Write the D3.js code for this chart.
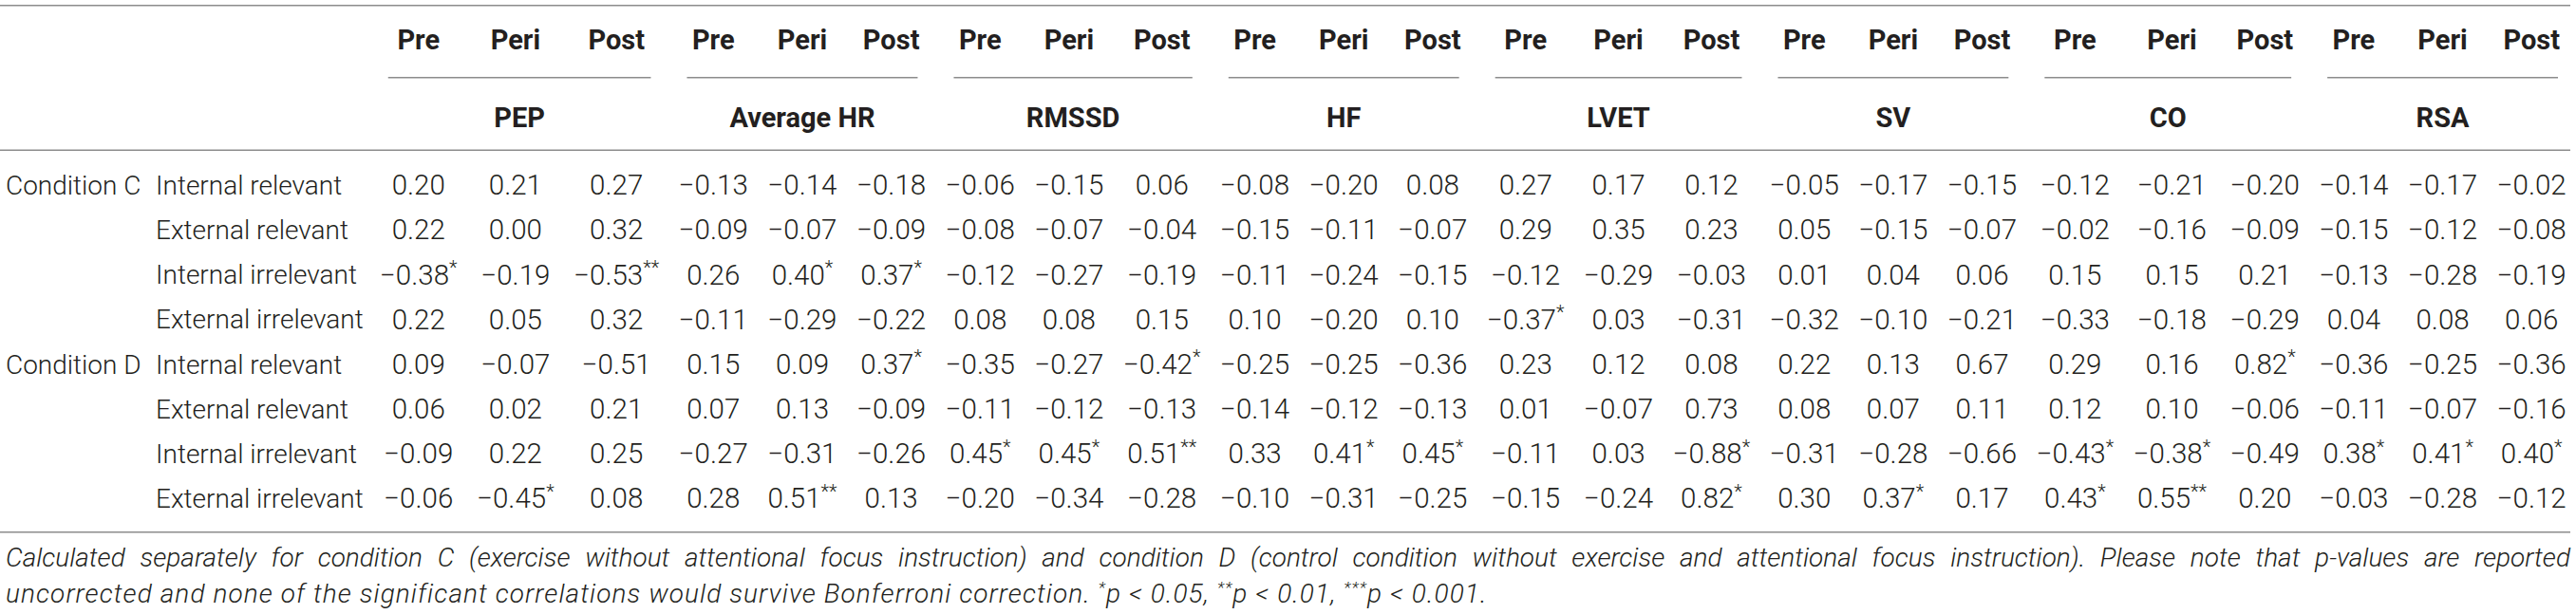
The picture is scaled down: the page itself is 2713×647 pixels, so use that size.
<!DOCTYPE html>
<html>
<head>
<meta charset="utf-8">
<script src="https://cdn.jsdelivr.net/npm/d3@7"></script>
<style>
  html, body { margin: 0; padding: 0; background: #fff; }
  svg { display: block; }
</style>
</head>
<body>
<div id="chart"></div>
<script>
// correlation table: focus ratings vs. physiology, pre / peri / post

const conditions = ["Condition C", "Condition D"]
const focusTypes = ["Internal relevant", "External relevant", "Internal irrelevant", "External irrelevant"]
const measures = ["PEP", "Average HR", "RMSSD", "HF", "LVET", "SV", "CO", "RSA"]
const phases = ["Pre", "Peri", "Post"]

// one row per focus type, 24 values = 8 measures x 3 phases
const condC = [
  [0.20, 0.21, 0.27, -0.13, -0.14, -0.18, -0.06, -0.15, 0.06, -0.08, -0.20, 0.08, 0.27, 0.17, 0.12, -0.05, -0.17, -0.15, -0.12, -0.21, -0.20, -0.14, -0.17, -0.02],
  [0.22, 0.00, 0.32, -0.09, -0.07, -0.09, -0.08, -0.07, -0.04, -0.15, -0.11, -0.07, 0.29, 0.35, 0.23, 0.05, -0.15, -0.07, -0.02, -0.16, -0.09, -0.15, -0.12, -0.08],
  [-0.38, -0.19, -0.53, 0.26, 0.40, 0.37, -0.12, -0.27, -0.19, -0.11, -0.24, -0.15, -0.12, -0.29, -0.03, 0.01, 0.04, 0.06, 0.15, 0.15, 0.21, -0.13, -0.28, -0.19],
  [0.22, 0.05, 0.32, -0.11, -0.29, -0.22, 0.08, 0.08, 0.15, 0.10, -0.20, 0.10, -0.37, 0.03, -0.31, -0.32, -0.10, -0.21, -0.33, -0.18, -0.29, 0.04, 0.08, 0.06]
]
const condD = [
  [0.09, -0.07, -0.51, 0.15, 0.09, 0.37, -0.35, -0.27, -0.42, -0.25, -0.25, -0.36, 0.23, 0.12, 0.08, 0.22, 0.13, 0.67, 0.29, 0.16, 0.82, -0.36, -0.25, -0.36],
  [0.06, 0.02, 0.21, 0.07, 0.13, -0.09, -0.11, -0.12, -0.13, -0.14, -0.12, -0.13, 0.01, -0.07, 0.73, 0.08, 0.07, 0.11, 0.12, 0.10, -0.06, -0.11, -0.07, -0.16],
  [-0.09, 0.22, 0.25, -0.27, -0.31, -0.26, 0.45, 0.45, 0.51, 0.33, 0.41, 0.45, -0.11, 0.03, -0.88, -0.31, -0.28, -0.66, -0.43, -0.38, -0.49, 0.38, 0.41, 0.40],
  [-0.06, -0.45, 0.08, 0.28, 0.51, 0.13, -0.20, -0.34, -0.28, -0.10, -0.31, -0.25, -0.15, -0.24, 0.82, 0.30, 0.37, 0.17, 0.43, 0.55, 0.20, -0.03, -0.28, -0.12]
]
// significance marks: [row, column, number of stars]
const starsC = [[2, 0, 1], [2, 2, 2], [2, 4, 1], [2, 5, 1], [3, 12, 1]]
const starsD = [
  [0, 5, 1], [0, 8, 1], [0, 20, 1],
  [2, 6, 1], [2, 7, 1], [2, 8, 2], [2, 10, 1], [2, 11, 1], [2, 14, 1], [2, 18, 1], [2, 19, 1], [2, 21, 1], [2, 22, 1], [2, 23, 1],
  [3, 1, 1], [3, 4, 2], [3, 14, 1], [3, 16, 1], [3, 18, 1], [3, 19, 2]
]

const noteLine1 = "Calculated separately for condition C (exercise without attentional focus instruction) and condition D (control condition without exercise and attentional focus instruction). Please note that p-values are reported"
const noteLine2 = ["uncorrected and none of the significant correlations would survive Bonferroni correction. ", "*", "p < 0.05, ", "**", "p < 0.01, ", "***", "p < 0.001."]

const W = 2713, H = 647
const FONT = "Roboto, 'Helvetica Neue', Arial, sans-serif"
const FS = 28, FSBOLD = 29, FSNUM = 29.5, FSSTAR = 20
const PAD = 8, PADNUM = 10.5
const NOTE2_END = 1566
const ink = "#231f20", ruleCol = "#8c8c8c"
const fmt = d3.format(".2f")

const svg = d3.select("#chart").append("svg")
  .attr("width", W).attr("height", H)
  .style("font-family", FONT)

// flatten body rows
const rows = []
;[condC, condD].forEach((block, ci) => {
  const stars = ci === 0 ? starsC : starsD
  block.forEach((vals, fi) => {
    rows.push({
      key: ci + "-" + fi,
      cond: fi === 0 ? conditions[ci] : "",
      focus: focusTypes[fi],
      cells: vals.map((v, k) => {
        const s = stars.find(d => d[0] === fi && d[1] === k)
        return {col: k, text: fmt(v), star: s ? "*".repeat(s[2]) : ""}
      })
    })
  })
})

const colKeys = []
measures.forEach(m => phases.forEach(p => colKeys.push(m + "|" + p)))

// ---- draw text first, then lay out columns from measured widths
const gHead = svg.append("g")
const gBody = svg.append("g")

const phaseText = gHead.selectAll("text.phase")
  .data(colKeys).join("text")
  .attr("class", "phase")
  .attr("font-size", FSBOLD).attr("font-weight", 700).attr("fill", ink)
  .attr("text-anchor", "middle")
  .text(d => d.split("|")[1])

const groupText = gHead.selectAll("text.group")
  .data(measures).join("text")
  .attr("class", "group")
  .attr("font-size", FSBOLD).attr("font-weight", 700).attr("fill", ink)
  .attr("text-anchor", "middle")
  .text(d => d)

const rowG = gBody.selectAll("g.row")
  .data(rows).join("g").attr("class", "row")

const condText = rowG.append("text")
  .attr("font-size", FS).attr("font-weight", 300).attr("fill", ink)
  .text(d => d.cond)
const focusText = rowG.append("text")
  .attr("font-size", FS).attr("font-weight", 300).attr("fill", ink)
  .text(d => d.focus)

const cellText = rowG.selectAll("text.cell")
  .data(d => d.cells).join("text")
  .attr("class", "cell")
  .attr("font-size", FSNUM).attr("font-weight", 300).attr("fill", ink)
  .attr("text-anchor", "middle")
cellText.append("tspan").text(d => d.text)
cellText.filter(d => d.star).append("tspan")
  .attr("font-size", FSSTAR).attr("dy", -FSNUM * 0.36)
  .text(d => d.star)

// measured widths -> column widths (like an auto table layout)
const len = n => n.getComputedTextLength()
const wCond = d3.max(condText.nodes(), len) + 2 * PAD
const wFocus = d3.max(focusText.nodes(), len) + 2 * PAD
const wData = colKeys.map((k, i) => {
  const a = d3.max(cellText.filter(d => d.col === i).nodes(), len)
  const b = len(phaseText.nodes()[i])
  return Math.max(a, b) + 2 * PADNUM
})
const widths = [wCond, wFocus, ...wData]
const edges = [0, ...d3.cumsum(widths)]
const x = d3.scaleLinear().domain([0, edges[edges.length - 1]]).range([-2, W])
const k = x(1) - x(0)
const colLeft = i => x(edges[i])
const colRight = i => x(edges[i + 1])
const colMid = i => (colLeft(i) + colRight(i)) / 2

// rows
const y = d3.scalePoint().domain(rows.map(d => d.key)).range([195, 525])
rowG.attr("transform", d => `translate(0,${y(d.key)})`)
condText.attr("x", colLeft(0) + PAD * k).attr("dy", "0.355em")
focusText.attr("x", colLeft(1) + PAD * k).attr("dy", "0.355em")
cellText.attr("x", d => colMid(d.col + 2)).attr("dy", "0.35em")

// header
phaseText.attr("x", (d, i) => colMid(i + 2)).attr("y", 51.5)
groupText
  .attr("x", (d, i) => (colLeft(2 + i * 3) + colRight(4 + i * 3)) / 2)
  .attr("y", 134)

svg.append("g").selectAll("line")
  .data(measures).join("line")
  .attr("x1", (d, i) => colLeft(2 + i * 3) + 19)
  .attr("x2", (d, i) => colRight(4 + i * 3) - 19)
  .attr("y1", 81.7).attr("y2", 81.7)
  .attr("stroke", ruleCol).attr("stroke-width", 1.6)

// horizontal rules
svg.append("g").selectAll("line")
  .data([5.7, 158.3, 560.7]).join("line")
  .attr("x1", 0).attr("x2", W - 6)
  .attr("y1", d => d).attr("y2", d => d)
  .attr("stroke", ruleCol).attr("stroke-width", 1.6)

// footnote, first line justified to table width
const n1 = svg.append("text")
  .attr("x", 6).attr("y", 597)
  .attr("font-size", FS).attr("font-weight", 300).attr("font-style", "italic").attr("fill", ink)
  .text(noteLine1)
const spaces = noteLine1.split(" ").length - 1
const extra = (W - 6 - 6 - len(n1.node())) / spaces
n1.style("word-spacing", extra + "px")

const n2 = svg.append("text")
  .attr("x", 6).attr("y", 635)
  .attr("font-size", FS).attr("font-weight", 300).attr("font-style", "italic").attr("fill", ink)
n2.selectAll("tspan")
  .data(noteLine2).join("tspan")
  .attr("font-size", d => d.startsWith("*") ? FS * 0.62 : FS)
  .attr("baseline-shift", d => d.startsWith("*") ? "super" : null)
  .text(d => d)
// the source set this last line a little looser
const nChars = noteLine2.join("").length
n2.style("letter-spacing", ((NOTE2_END - 6 - len(n2.node())) / nChars) + "px")
</script>
</body>
</html>
